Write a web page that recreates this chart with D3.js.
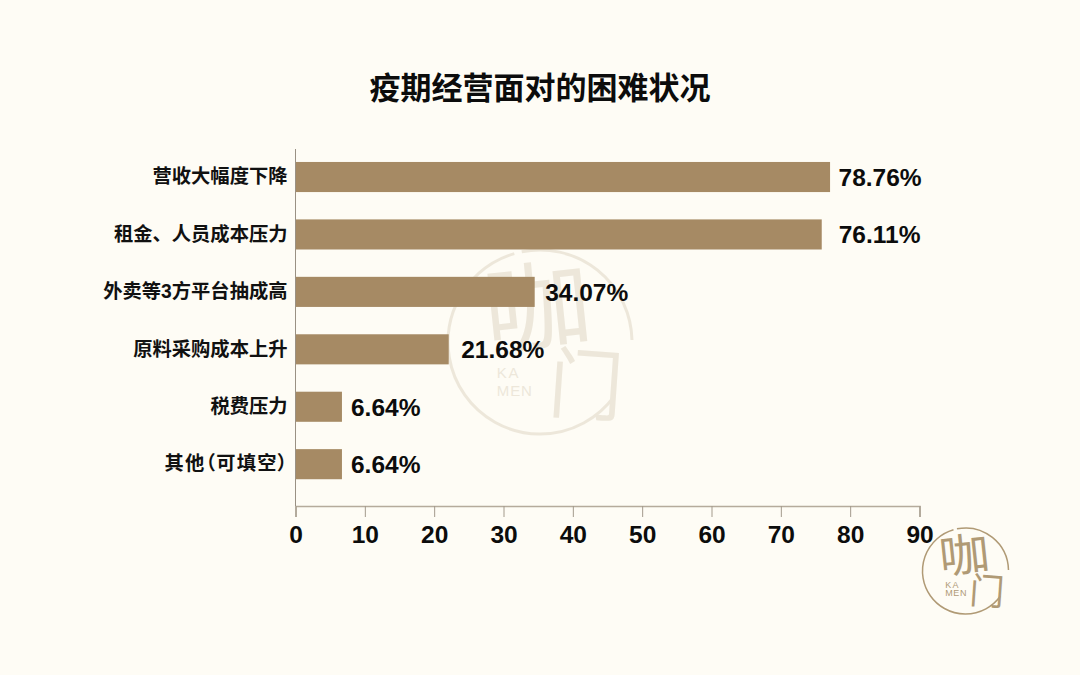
<!DOCTYPE html>
<html><head><meta charset="utf-8">
<script src="https://cdn.jsdelivr.net/npm/d3@7"></script>
<style>html,body{margin:0;padding:0;background:#fefcf5}svg{display:block}
text{font-family:"Liberation Sans","Noto Sans CJK SC",sans-serif}</style></head>
<body><div id="c"></div>
<script>
const categories=["营收大幅度下降","租金、人员成本压力","外卖等3方平台抽成高","原料采购成本上升","税费压力","其他（可填空）"];
const barLengths=[77.1,75.9,34.5,22.1,6.7,6.7];
const valueLabels=["78.76%","76.11%","34.07%","21.68%","6.64%","6.64%"];
const labelGaps=[8.5,17,10.5,12.5,9,9];
const xTicks=[0,10,20,30,40,50,60,70,80,90];
const title="疫期经营面对的困难状况";
const W=1080,H=675;
const svg=d3.select("#c").append("svg").attr("width",W).attr("height",H);
svg.append("rect").attr("width",W).attr("height",H).attr("fill","#fefcf5");

function logo(cx,cy,r,color,op,sw,small){
  const g=svg.append("g").attr("opacity",op).attr("transform",`translate(${cx},${cy})`);
  g.append("path").attr("d",d3.arc()({innerRadius:r,outerRadius:r,startAngle:-0.2,endAngle:1.55}))
   .attr("fill","none").attr("stroke",color).attr("stroke-width",sw);
  g.append("path").attr("d",d3.arc()({innerRadius:r,outerRadius:r,startAngle:2.2,endAngle:6.0}))
   .attr("fill","none").attr("stroke",color).attr("stroke-width",sw);
  const cjk=(t,x,y,s,rot,sx)=>g.append("text").text(t).attr("text-anchor","middle").attr("dy","0.36em")
    .attr("transform",`translate(${x*r},${y*r}) rotate(${rot}) scale(${sx},1)`)
    .attr("font-size",s*r).attr("fill",color).attr("font-weight",400)
    .style("font-family",'"Noto Sans CJK SC"');
  cjk("咖",-0.03,-0.37,1.05,-6,1.12);
  cjk("门",0.5,0.47,0.85,4,0.95);
  g.append("text").text("KA").attr("x",-0.47*r).attr("y",0.39*r)
    .attr("font-size",small).attr("fill",color).attr("letter-spacing",small*0.12);
  g.append("text").text("MEN").attr("x",-0.47*r).attr("y",0.59*r)
    .attr("font-size",small).attr("fill",color).attr("letter-spacing",small*0.06);
}
logo(540,342,92,"#d9cfbb",0.45,3,15);

const x=d3.scaleLinear().domain([0,90]).range([295.5,919.5]);
const y=d3.scaleBand().domain(categories).range([148.3,492.9]).paddingInner(0.476).paddingOuter(0.238);

svg.append("text").text(title).attr("x",540).attr("y",99).attr("text-anchor","middle")
  .attr("font-size",31).attr("font-weight",700).attr("fill","#0c0c0c");

svg.selectAll("rect.bar").data(categories).join("rect").attr("class","bar")
  .attr("x",x(0)).attr("y",d=>y(d)).attr("width",(d,i)=>x(barLengths[i])-x(0)).attr("height",y.bandwidth())
  .attr("fill","#a68a64");

const ax=svg.append("g").attr("transform","translate(0,506)")
  .call(d3.axisBottom(x).tickValues(xTicks).tickSize(11).tickPadding(9).tickFormat(d3.format("d")));
ax.select(".domain").attr("stroke","#b5ab9c").attr("stroke-width",1.6);
ax.selectAll("line").attr("stroke","#a39a8c").attr("stroke-width",1);
ax.selectAll("text").attr("font-size",24.5).attr("font-weight",700).attr("fill","#0c0c0c");

const ay=svg.append("g").attr("transform","translate(295.5,0)")
  .call(d3.axisLeft(y).tickSize(0).tickPadding(8));
ay.select(".domain").remove();
ay.append("line").attr("y1",149).attr("y2",506).attr("stroke","#9a9184").attr("stroke-width",1);
ay.selectAll("text").attr("font-size",19.3).attr("font-weight",700).attr("fill","#111")
  .filter(d=>d===categories[5]).style("font-feature-settings",'"palt"').attr("letter-spacing",1.2).attr("dx",1);

svg.selectAll("text.val").data(categories).join("text").attr("class","val")
  .attr("x",(d,i)=>x(barLengths[i])+labelGaps[i])
  .attr("y",d=>y(d)+y.bandwidth()/2).attr("dy","0.36em")
  .attr("font-size",24.5).attr("font-weight",700).attr("fill","#0c0c0c")
  .text((d,i)=>valueLabels[i]);

logo(965.5,571,43,"#b09a75",1,1.5,9);
</script></body></html>
